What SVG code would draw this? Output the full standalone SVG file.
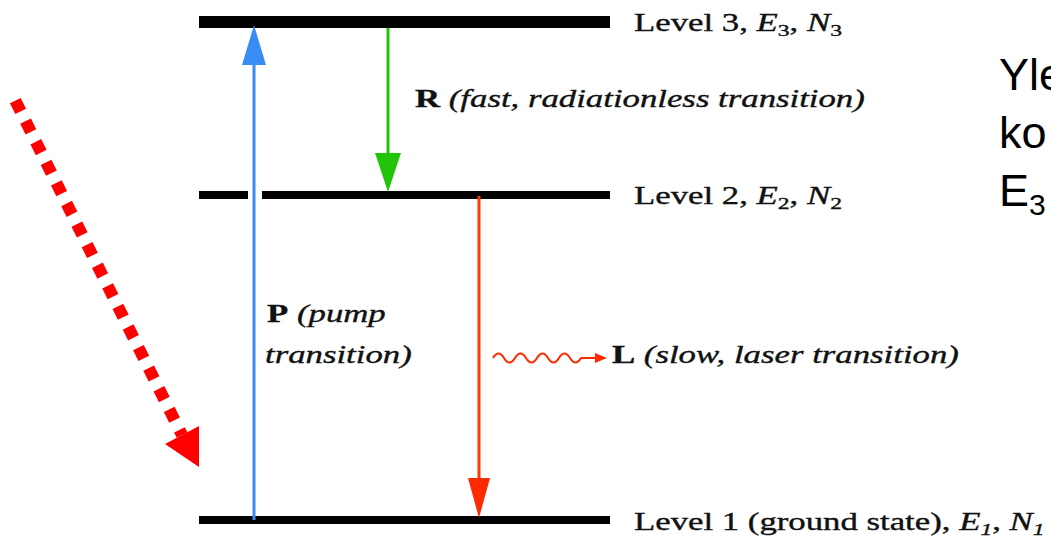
<svg xmlns="http://www.w3.org/2000/svg" width="1051" height="540" viewBox="0 0 1051 540">
<style>
.bar{fill:#000}
.lbl{font-family:"Liberation Serif","Times New Roman",serif;font-size:25px;fill:#111;stroke:#111;stroke-width:0.35}
.it{font-style:italic}
.b{font-weight:bold}
.sub{font-size:17px}
.side{font-family:"Liberation Sans",Arial,sans-serif;font-size:45px;fill:#000}
</style>
<rect width="1051" height="540" fill="#fff"/>
<g id="level3">
<rect class="bar" x="199" y="16" width="411" height="12"/>
<g transform="translate(634,31) scale(1.39,1)"><text class="lbl" x="0" y="0">Level 3, <tspan class="it">E</tspan><tspan class="sub" dy="5">3</tspan><tspan dy="-5">, </tspan><tspan class="it">N</tspan><tspan class="sub" dy="5">3</tspan></text></g>
</g>
<g id="level2">
<rect class="bar" x="199" y="191" width="49" height="8"/>
<rect class="bar" x="262" y="191" width="348" height="8"/>
<g transform="translate(634,204) scale(1.39,1)"><text class="lbl" x="0" y="0">Level 2, <tspan class="it">E</tspan><tspan class="sub" dy="5">2</tspan><tspan dy="-5">, </tspan><tspan class="it">N</tspan><tspan class="sub" dy="5">2</tspan></text></g>
</g>
<g id="level1">
<rect class="bar" x="199" y="516" width="411" height="8"/>
<g transform="translate(634,530) scale(1.39,1)"><text class="lbl" x="0" y="0">Level 1 (ground state), <tspan class="it">E</tspan><tspan class="sub it" dy="5">1</tspan><tspan dy="-5">, </tspan><tspan class="it">N</tspan><tspan class="sub it" dy="5">1</tspan></text></g>
</g>
<g id="connectors">
<line x1="254" y1="520" x2="254" y2="62" stroke="#3a8cf5" stroke-width="3"/>
<polygon points="254,25 242,65 266,65" fill="#3a8cf5"/>
<line x1="388" y1="28" x2="388" y2="156" stroke="#22c40a" stroke-width="3"/>
<polygon points="388,192 375,153 401,153" fill="#22c40a"/>
<line x1="479" y1="196" x2="479" y2="481" stroke="#ff3a00" stroke-width="3"/>
<polygon points="479,518 468,478 490,478" fill="#ff2a00"/>
<path d="M493,358 q5.5,-9 11,0 t11,0 t11,0 t11,0 t11,0 t11,0 t11,0 t11,0 L597,358" fill="none" stroke="#ff2a00" stroke-width="2"/>
<polygon points="607,358 595,353 595,363" fill="#ff2a00"/>
<line x1="15.3" y1="100.6" x2="182" y2="435" stroke="#ff0000" stroke-width="12" stroke-dasharray="12 11"/>
<polygon points="199,467 165,444 199,426" fill="#ff0000"/>
</g>
<g id="label-R" transform="translate(415,107) scale(1.39,1)"><text class="lbl" x="0" y="0"><tspan class="b">R</tspan> <tspan class="it">(fast, radiationless transition)</tspan></text></g>
<g id="label-P">
<g transform="translate(267,322) scale(1.39,1)"><text class="lbl" x="0" y="0"><tspan class="b">P</tspan> <tspan class="it">(pump</tspan></text></g>
<g transform="translate(265,363) scale(1.39,1)"><text class="lbl it" x="0" y="0">transition)</text></g>
</g>
<g id="label-L" transform="translate(612,363) scale(1.39,1)"><text class="lbl" x="0" y="0"><tspan class="b">L</tspan> <tspan class="it">(slow, laser transition)</tspan></text></g>
<g id="side-text">
<text class="side" x="999" y="90">Yle</text>
<text class="side" x="999" y="148">ko</text>
<text class="side" x="999" y="206">E<tspan font-size="30" dy="9">3</tspan></text>
</g>
</svg>
